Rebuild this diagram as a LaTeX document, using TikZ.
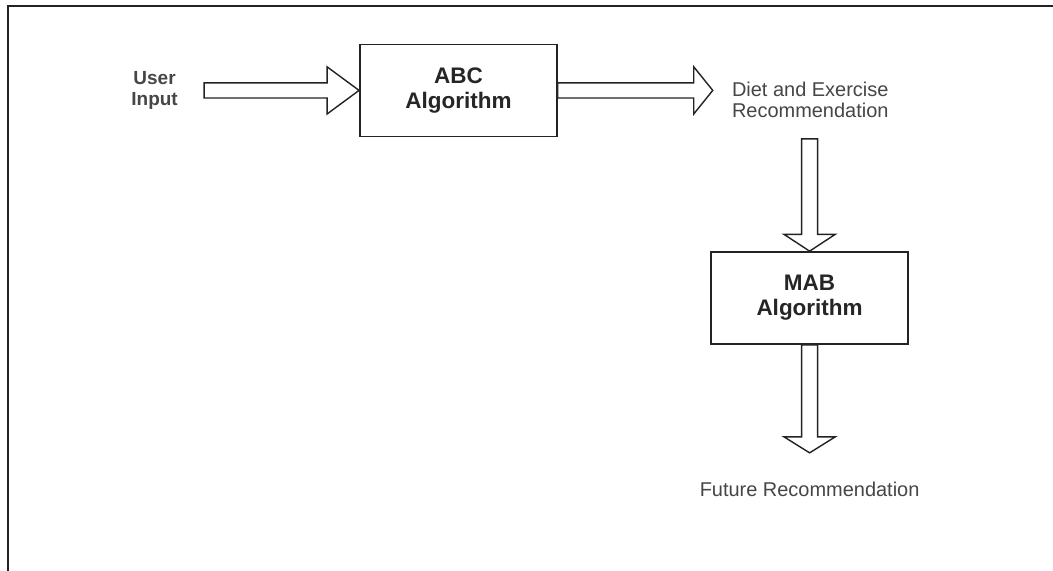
\documentclass[tikz,border=0pt]{standalone}
\usepackage{fontspec}
\setmainfont{Liberation Sans}
\usetikzlibrary{positioning,calc}
\definecolor{linea}{RGB}{35,35,35}
\definecolor{texto}{RGB}{70,70,70}
\tikzset{
  bloque/.style={draw=linea,line width=1.2pt,minimum width=4.925cm,minimum height=2.3cm,
                 align=center,text=black!85,font=\fontsize{16}{17.8}\selectfont\bfseries},
  etiq/.style={inner sep=0pt,align=center,text=texto,font=\fontsize{14.2}{15.2}\selectfont},
  flechah/.style={draw=linea,line width=1pt,
    to path={let \p1=(\tikztostart),\p2=(\tikztotarget) in
      (\x1,\y1+0.19cm) -- (\x2-#1,\y1+0.19cm) -- (\x2-#1,\y1+0.59cm) -- (\x2,\y1)
      -- (\x2-#1,\y1-0.59cm) -- (\x2-#1,\y1-0.19cm) -- (\x1,\y1-0.19cm) -- cycle}},
  flechav/.style={draw=linea,line width=1pt,
    to path={let \p1=(\tikztostart),\p2=(\tikztotarget) in
      (\x2-0.2cm,\y1) -- (\x2-0.2cm,\y2+#1) -- (\x2-0.64cm,\y2+#1) -- (\x2,\y2)
      -- (\x2+0.64cm,\y2+#1) -- (\x2+0.2cm,\y2+#1) -- (\x2+0.2cm,\y1) -- cycle}},
}
\begin{document}
\begin{tikzpicture}
  \path[fill=white,use as bounding box] (0,0) rectangle (26.325,-14.25);
  \draw[linea,line width=1.4pt] (0.21,-14.3) |- (26.4,-0.15);

  \node[bloque] (abc) at (11.46,-2.26) {ABC\\Algorithm};
  \node[etiq,font=\fontsize{13.5}{15}\selectfont\bfseries,left=4.525cm of abc.west] (inp) {User\\Input};
  \node[etiq,right=4.35cm of abc.east,yshift=-0.23cm] (diet) {Diet and Exercise\\Recommendation};
  \node[bloque] (mab) at (20.24,-7.45) {MAB\\Algorithm};
  \node[etiq,below=3.425cm of mab.south] (fut) {Future Recommendation};

  \draw[flechah=0.8cm] ([xshift=0.65cm]inp.east) to (abc.west);
  \draw[flechah=0.475cm] (abc.east) to ([xshift=-0.475cm]diet.west);
  \draw[flechav=0.42cm] ([yshift=-0.525cm]diet.south) to (mab.north);
  \draw[flechav=0.4cm] (mab.south) to ([yshift=0.725cm]fut.north);
\end{tikzpicture}
\end{document}
